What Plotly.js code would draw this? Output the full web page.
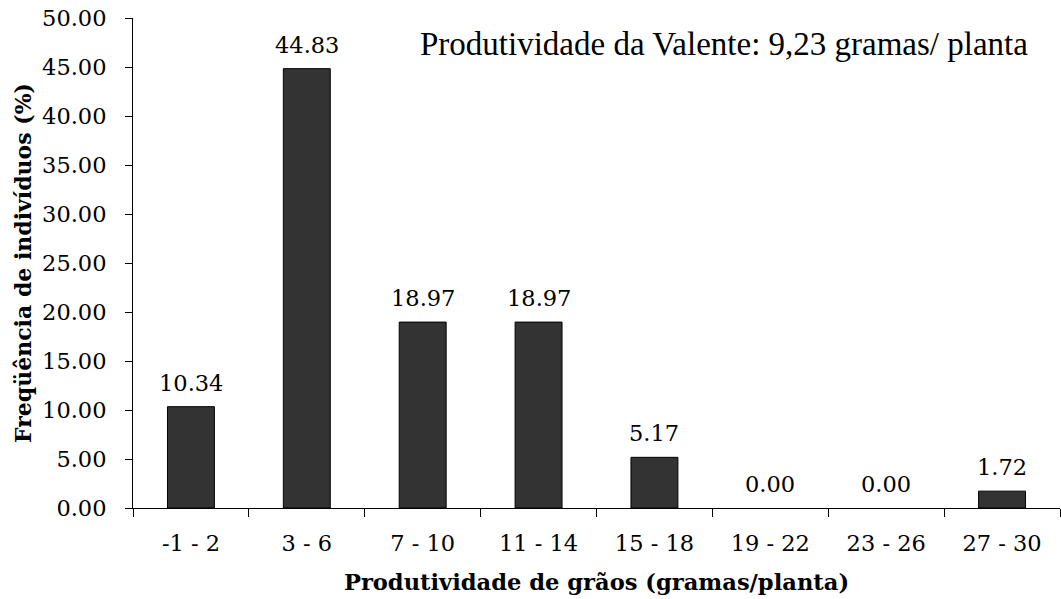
<!DOCTYPE html>
<html>
<head>
<meta charset="utf-8">
<script src="https://cdn.plot.ly/plotly-3.0.1.min.js"></script>
<style>html,body{margin:0;padding:0;background:#fff;}#chart{width:1061px;height:599px;}</style>
</head>
<body>
<div id="chart"></div>
<script>
const categories = ["-1 - 2", "3 - 6", "7 - 10", "11 - 14", "15 - 18", "19 - 22", "23 - 26", "27 - 30"];
const frequencies = [10.34, 44.83, 18.97, 18.97, 5.17, 0.00, 0.00, 1.72];
const yTickValues = [0, 5, 10, 15, 20, 25, 30, 35, 40, 45, 50];
const annotationText = "Produtividade da Valente: 9,23 gramas/ planta";
const xTitle = "Produtividade de grãos (gramas/planta)";
const yTitle = "Freqüência de indivíduos (%)";

const serif = "DejaVu Serif, serif";

const trace = {
  type: "bar",
  x: categories,
  y: frequencies,
  width: 0.405,
  marker: {color: "#333333", line: {color: "#000000", width: frequencies.map(v => v > 0 ? 1 : 0)}},
  cliponaxis: false,
  hoverinfo: "x+y"
};

const valueLabels = categories.map((c, i) => ({
  x: c,
  y: frequencies[i],
  xref: "x", yref: "y",
  text: frequencies[i].toFixed(2),
  showarrow: false,
  xanchor: "center", yanchor: "bottom",
  yshift: 9,
  font: {family: serif, size: 22.5, color: "#000"}
}));

const layout = {
  width: 1061,
  height: 599,
  margin: {l: 133, r: 1, t: 18, b: 91},
  paper_bgcolor: "#fff",
  plot_bgcolor: "#fff",
  showlegend: false,
  font: {family: serif, size: 22.5, color: "#000"},
  xaxis: {
    type: "category",
    tickson: "boundaries",
    ticks: "outside",
    ticklen: 8,
    tickwidth: 1,
    tickcolor: "#000",
    showline: true,
    linecolor: "#000",
    linewidth: 1,
    showgrid: false,
    zeroline: false,
    ticklabelstandoff: 15,
    tickfont: {family: serif, size: 22.5},
    title: {text: xTitle, font: {family: serif, size: 22.6, weight: "bold"}, standoff: 19}
  },
  yaxis: {
    range: [0, 50],
    tickvals: yTickValues,
    tickformat: ".2f",
    ticks: "outside",
    ticklen: 7,
    tickwidth: 1,
    tickcolor: "#000",
    showline: true,
    linecolor: "#000",
    linewidth: 1,
    showgrid: false,
    zeroline: false,
    ticklabelstandoff: 14,
    tickfont: {family: serif, size: 22.5},
    title: {text: yTitle, font: {family: serif, size: 22, weight: "bold"}, standoff: 4}
  },
  annotations: [{
    text: annotationText,
    xref: "paper", yref: "paper",
    x: 0.307, y: 0.947,
    xanchor: "left", yanchor: "middle",
    showarrow: false,
    font: {family: "Liberation Serif, Times New Roman, serif", size: 33, color: "#000"}
  }].concat(valueLabels)
};

Plotly.newPlot("chart", [trace], layout, {displayModeBar: false, staticPlot: true});
</script>
</body>
</html>
